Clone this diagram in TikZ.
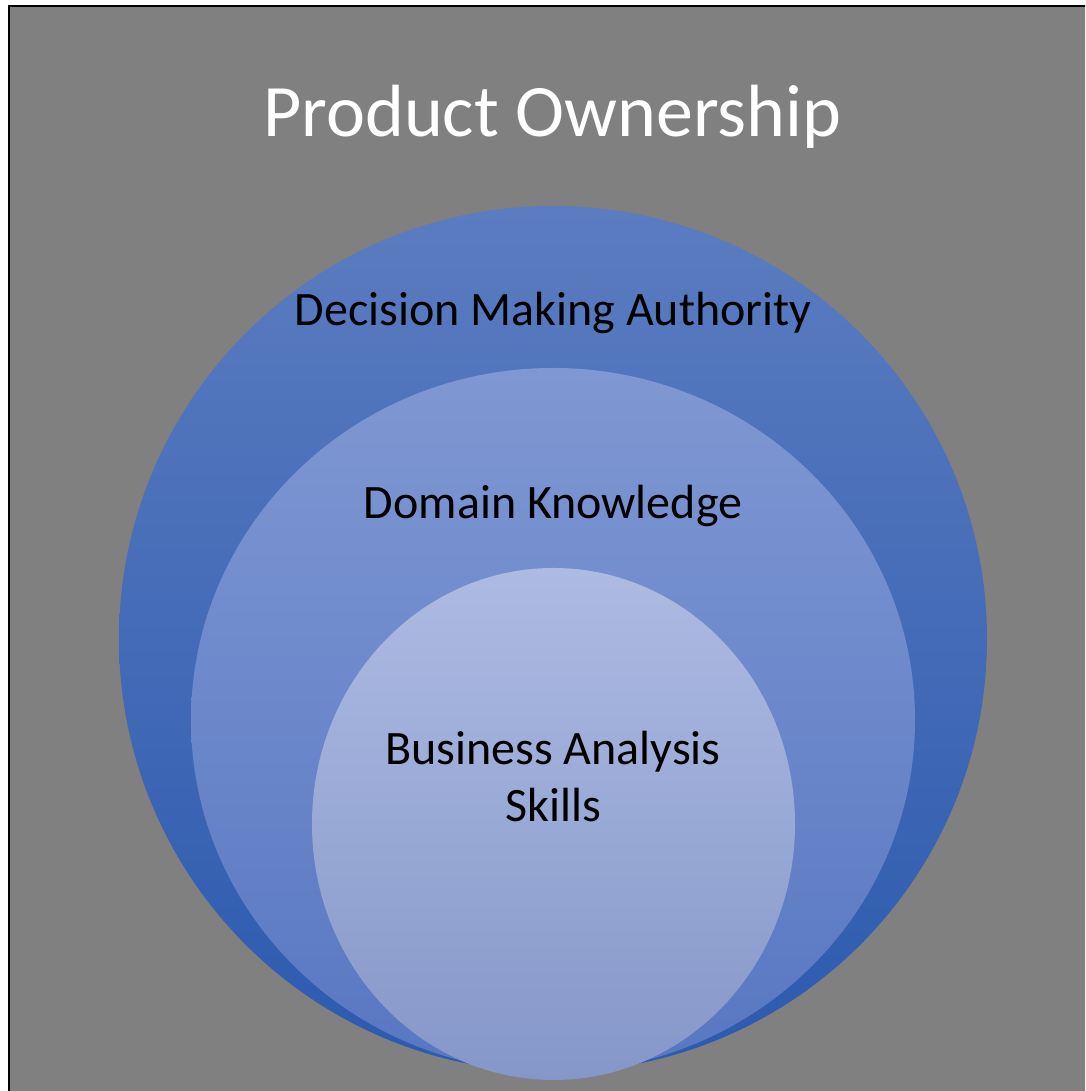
\documentclass[tikz,border=0pt]{standalone}
\usepackage{fontspec}
\setmainfont{Carlito}
\definecolor{bggray}{HTML}{808080}
\definecolor{outtop}{HTML}{5B7CC0}
\definecolor{outbot}{HTML}{2C5AAE}
\definecolor{midtop}{HTML}{7F98D3}
\definecolor{midbot}{HTML}{5877C2}
\definecolor{intop}{HTML}{ADBBE2}
\definecolor{inbot}{HTML}{8597C9}
\begin{document}
\begin{tikzpicture}[x=1pt,y=1pt,
  lbl/.style={anchor=base, font=\fontsize{48}{57}\selectfont, text=black, inner sep=0pt, align=center},
  ring/.style={draw=none, shading=axis, shading angle=0}]
\useasboundingbox (0,0) rectangle (1085,1091);
\fill[white] (0,0) rectangle (1085,1091);
\begin{scope}
\clip (0,0) rectangle (1085,1091);
\draw[line width=2.5pt, fill=bggray] (9,1085) rectangle (1110,-20);
\end{scope}
\path[ring, top color=outtop, bottom color=outbot] (553,452) ellipse [x radius=434, y radius=433];
\path[ring, top color=midtop, bottom color=midbot] (553,371) ellipse [x radius=362, y radius=352];
\path[ring, top color=intop, bottom color=inbot] (553.5,267) ellipse [x radius=241.5, y radius=256];
\node[anchor=base, font=\fontsize{74}{80}\selectfont, text=white, inner sep=0pt] (title) at (552.5,954) {Product Ownership};
\node[lbl] (dma) at (553,765) {Decision Making Authority};
\node[lbl] (dk) at (553,572) {Domain Knowledge};
\node[lbl] (bas) at (553,269) {Business Analysis\\Skills};
\end{tikzpicture}
\end{document}
